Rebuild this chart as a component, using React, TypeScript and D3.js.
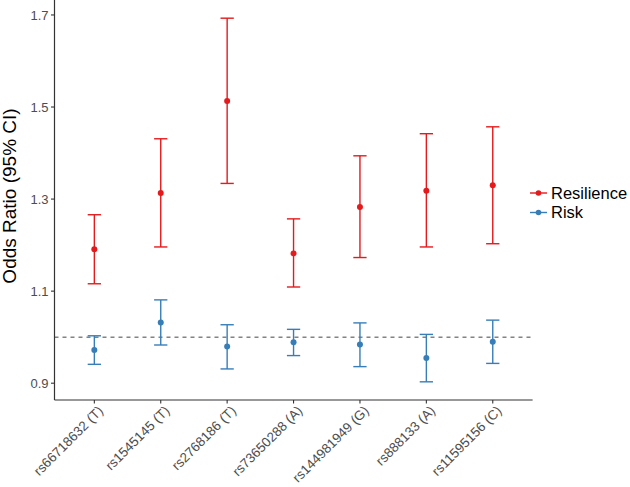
import React from "react";
import * as d3 from "d3";

const snps = [
  "rs66718632 (T)",
  "rs1545145 (T)",
  "rs2768186 (T)",
  "rs73650288 (A)",
  "rs144981949 (G)",
  "rs888133 (A)",
  "rs11595156 (C)",
];
const seriesNames = ["Resilience", "Risk"];
const seriesColors = ["#E41A1C", "#377EB8"];

const resOR = [1.191, 1.313, 1.513, 1.182, 1.283, 1.318, 1.33];
const resLo = [1.116, 1.196, 1.334, 1.109, 1.173, 1.196, 1.203];
const resHi = [1.266, 1.431, 1.693, 1.257, 1.394, 1.442, 1.457];

const riskOR = [0.972, 1.032, 0.98, 0.989, 0.984, 0.955, 0.99];
const riskLo = [0.941, 0.983, 0.931, 0.96, 0.936, 0.903, 0.943];
const riskHi = [1.003, 1.081, 1.027, 1.017, 1.031, 1.006, 1.037];

const yTicks = [0.9, 1.1, 1.3, 1.5, 1.7];

const W = 630;
const H = 487;
const panel = { left: 54.5, right: 532.6, top: 0, bottom: 400 };

export default function App() {
  const series = [
    { name: seriesNames[0], color: seriesColors[0], or: resOR, lo: resLo, hi: resHi },
    { name: seriesNames[1], color: seriesColors[1], or: riskOR, lo: riskLo, hi: riskHi },
  ];
  const allLo = d3.min([...resLo, ...riskLo]) as number;
  const allHi = d3.max([...resHi, ...riskHi]) as number;
  const pad = (allHi - allLo) * 0.05;
  const y = d3
    .scaleLinear()
    .domain([allLo - pad, allHi + pad])
    .range([panel.bottom, panel.top]);
  const x = d3
    .scalePoint<string>()
    .domain(snps)
    .range([panel.left, panel.right])
    .padding(0.6);
  const step = x.step();
  const capHalf = step * 0.1;
  const font = "Liberation Sans, Arial, sans-serif";

  return (
    <svg
      width={W}
      height={H}
      style={{ position: "absolute", left: 0, top: 0, background: "#fff" }}
      fontFamily={font}
    >
      <rect x={0} y={0} width={W} height={H} fill="#fff" />
      {/* reference line */}
      <line
        x1={panel.left}
        x2={panel.right}
        y1={y(1)}
        y2={y(1)}
        stroke="#444"
        strokeWidth={1}
        strokeDasharray="4,4"
      />
      {/* error bars */}
      {series.map((s) => (
        <g key={s.name}>
          {snps.map((c, i) => {
            const cx = x(c) as number;
            return (
              <g key={c}>
                <line x1={cx} x2={cx} y1={y(s.lo[i])} y2={y(s.hi[i])} stroke={s.color} strokeWidth={1.4} />
                <line x1={cx - capHalf} x2={cx + capHalf} y1={y(s.lo[i])} y2={y(s.lo[i])} stroke={s.color} strokeWidth={1.4} />
                <line x1={cx - capHalf} x2={cx + capHalf} y1={y(s.hi[i])} y2={y(s.hi[i])} stroke={s.color} strokeWidth={1.4} />
                <circle cx={cx} cy={y(s.or[i])} r={3} fill={s.color} />
              </g>
            );
          })}
        </g>
      ))}
      {/* axes */}
      <line x1={panel.left} x2={panel.left} y1={panel.top} y2={panel.bottom} stroke="#333" strokeWidth={1.2} />
      <line x1={panel.left} x2={panel.right} y1={panel.bottom} y2={panel.bottom} stroke="#333" strokeWidth={1.2} />
      {yTicks.map((t) => (
        <g key={t}>
          <line x1={panel.left - 3.5} x2={panel.left} y1={y(t)} y2={y(t)} stroke="#333" strokeWidth={1.1} />
          <text x={panel.left - 6} y={y(t)} dy="0.35em" textAnchor="end" fontSize={13} fill="#4D4D4D">
            {t.toFixed(1)}
          </text>
        </g>
      ))}
      {snps.map((c) => {
        const cx = x(c) as number;
        return (
          <g key={c}>
            <line x1={cx} x2={cx} y1={panel.bottom} y2={panel.bottom + 3.5} stroke="#333" strokeWidth={1.1} />
            <text
              transform={`translate(${cx + 3},${panel.bottom + 5}) rotate(-45)`}
              textAnchor="end"
              dy="0.7em"
              fontSize={13.4}
              fill="#4D4D4D"
            >
              {c}
            </text>
          </g>
        );
      })}
      <text
        transform={`translate(16,${(panel.top + panel.bottom) / 2 - 4}) rotate(-90)`}
        textAnchor="middle"
        fontSize={19}
        fill="#000"
      >
        Odds Ratio (95% CI)
      </text>
      {/* legend */}
      {series.map((s, i) => {
        const ly = 193 + i * 19.5;
        return (
          <g key={s.name}>
            <line x1={530} x2={547} y1={ly} y2={ly} stroke={s.color} strokeWidth={1.4} />
            <circle cx={538.5} cy={ly} r={2.8} fill={s.color} />
            <text x={551} y={ly} dy="0.36em" fontSize={16.5} fill="#000">
              {s.name}
            </text>
          </g>
        );
      })}
    </svg>
  );
}
